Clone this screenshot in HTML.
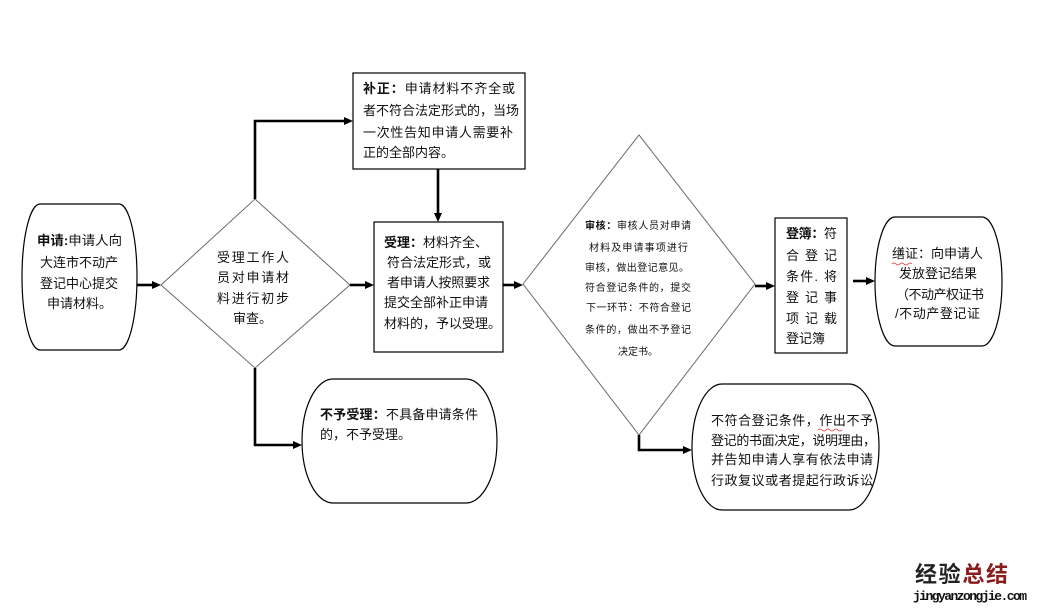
<!DOCTYPE html>
<html><head><meta charset="utf-8"><style>
html,body{margin:0;padding:0;background:#fff;}
svg{display:block;}
text{font-family:"Liberation Sans","Noto Sans CJK SC",sans-serif;fill:#111;}
.b{font-weight:bold;}
</style></head><body>
<svg width="1045" height="612" viewBox="0 0 1045 612" xmlns="http://www.w3.org/2000/svg">
<rect width="1045" height="612" fill="#fff"/>
<!-- shapes -->
<g fill="#fff" stroke="#000" stroke-width="1.2">
<path d="M40,204 L119,204 A18,73 0 0 1 119,350 L40,350 A18,73 0 0 1 40,204 Z"/>
<rect x="353" y="73" width="172" height="96"/>
<rect x="374" y="222" width="129" height="130"/>
<rect x="775" y="218" width="72" height="135"/>
<path d="M895,217 L982,217 A20,64.5 0 0 1 982,346 L895,346 A20,64.5 0 0 1 895,217 Z"/>
<path d="M722,384 L849,384 A30,63 0 0 1 849,510 L722,510 A30,63 0 0 1 722,384 Z"/>
<path d="M333,379 L466,379 A31,62 0 0 1 466,503 L333,503 A31,62 0 0 1 333,379 Z"/>
</g>
<g fill="#fff" stroke="#6a6a6a" stroke-width="1">
<polygon points="161,285 255,199 350,285 255,368"/>
<polygon points="523,284 639,135 755,284 639,435"/>
</g>
<!-- connectors -->
<g fill="none" stroke="#000" stroke-width="2.6">
<line x1="137" y1="285" x2="153" y2="285"/>
<polyline points="255,199 255,121 345,121"/>
<line x1="438" y1="169" x2="438" y2="214"/>
<line x1="350" y1="285" x2="366" y2="285"/>
<line x1="503" y1="285" x2="515" y2="285"/>
<line x1="755" y1="286" x2="767" y2="286"/>
<line x1="853" y1="281" x2="867" y2="281"/>
<polyline points="255,368 255,445 294,445"/>
<polyline points="639,435 639,450 684,450"/>
</g>
<g fill="#000">
<polygon points="152,281 161,285 152,289"/>
<polygon points="344,117 353,121 344,125"/>
<polygon points="434,213 438,222 442,213"/>
<polygon points="365,281 374,285 365,289"/>
<polygon points="514,281 523,285 514,289"/>
<polygon points="766,282 775,286 766,290"/>
<polygon points="866,277 875,281 866,285"/>
<polygon points="293,441 302,445 293,449"/>
<polygon points="683,446 692,450 683,454"/>
</g>
<!-- start node text -->
<g font-size="13">
<text x="37" y="245" textLength="85" lengthAdjust="spacingAndGlyphs"><tspan class="b">申请:</tspan>申请人向</text>
<text x="40" y="267" textLength="78">大连市不动产</text>
<text x="40" y="288" textLength="78">登记中心提交</text>
<text x="47" y="308">申请材料。</text>
</g>
<!-- diamond 1 -->
<g font-size="13">
<text x="217" y="262" textLength="72">受理工作人</text>
<text x="217" y="282" textLength="72">员对申请材</text>
<text x="217" y="303" textLength="72">料进行初步</text>
<text x="233" y="323">审查。</text>
</g>
<!-- 补正 -->
<g font-size="13">
<text x="363" y="93" textLength="152"><tspan class="b">补正：</tspan>申请材料不齐全或</text>
<text x="363" y="115" textLength="156">者不符合法定形式的，当场</text>
<text x="363" y="137" textLength="150">一次性告知申请人需要补</text>
<text x="363" y="157">正的全部内容。</text>
</g>
<!-- 受理 -->
<g font-size="13">
<text x="384" y="247" textLength="104"><tspan class="b">受理：</tspan>材料齐全、</text>
<text x="387" y="267" textLength="104">符合法定形式，或</text>
<text x="387" y="287" textLength="103">者申请人按照要求</text>
<text x="384" y="307" textLength="104">提交全部补正申请</text>
<text x="384" y="328">材料的，予以受理。</text>
</g>
<!-- 审核 -->
<g font-size="10">
<text x="585" y="229" textLength="106"><tspan class="b">审核：</tspan>审核人员对申请</text>
<text x="589" y="251" textLength="99">材料及申请事项进行</text>
<text x="585" y="271" textLength="104">审核，做出登记意见。</text>
<text x="585" y="291" textLength="106">符合登记条件的，提交</text>
<text x="586" y="311" textLength="105">下一环节：不符合登记</text>
<text x="585" y="333" textLength="106">条件的，做出不予登记</text>
<text x="638" y="355" text-anchor="middle">决定书。</text>
</g>
<!-- 登簿 -->
<g font-size="13">
<text x="786" y="238" textLength="51"><tspan class="b">登簿：</tspan>符</text>
<text x="786" y="260" textLength="51">合 登 记</text>
<text x="786" y="281" textLength="51">条件. 将</text>
<text x="786" y="302" textLength="51">登 记 事</text>
<text x="786" y="323" textLength="51">项 记 载</text>
<text x="786" y="343">登记簿</text>
</g>
<!-- 缮证 -->
<g font-size="13">
<text x="892" y="258" textLength="91">缮证：向申请人</text>
<text x="899" y="278" textLength="78">发放登记结果</text>
<text x="896" y="299" textLength="88">（不动产权证书</text>
<text x="895" y="318" textLength="85">/不动产登记证</text>
</g>
<path d="M892,264 q2,-2 4,0 t4,0 t4,0 t4,0 t4,0" stroke="#d33" stroke-width="0.8" fill="none"/>
<!-- reject 2 -->
<g font-size="13">
<text x="711" y="425" textLength="162">不符合登记条件，作出不予</text>
<text x="711" y="445" textLength="165">登记的书面决定，说明理由，</text>
<text x="711" y="464" textLength="162">并告知申请人享有依法申请</text>
<text x="711" y="485" textLength="162">行政复议或者提起行政诉讼</text>
</g>
<path d="M818,430 q2,-2 4,0 t4,0 t4,0 t4,0 t4,0 t4,0" stroke="#d33" stroke-width="0.8" fill="none"/>
<!-- 不予受理 -->
<g font-size="13">
<text x="320" y="419" textLength="158"><tspan class="b">不予受理：</tspan>不具备申请条件</text>
<text x="320" y="439">的，不予受理。</text>
</g>
<!-- watermark -->
<text x="915" y="582" font-size="22" font-weight="bold" textLength="93"><tspan fill="#222">经验</tspan><tspan fill="#8b1c1c">总结</tspan></text>
<text x="913" y="600" font-size="13" font-weight="bold" fill="#333" textLength="114" style="font-family:'Liberation Mono',monospace;">jingyanzongjie.com</text>
</svg>
</body></html>
